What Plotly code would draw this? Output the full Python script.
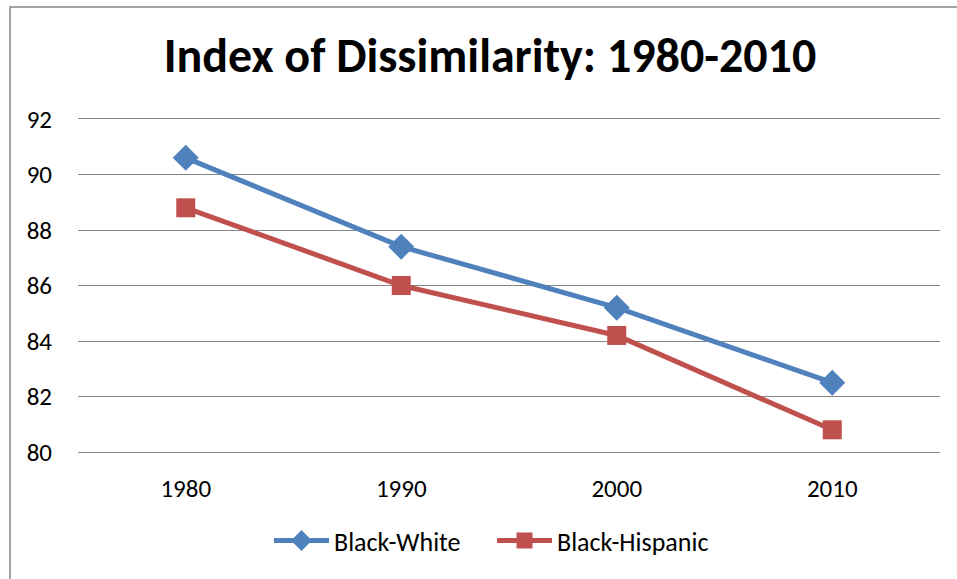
import plotly.graph_objects as go

years = ["1980", "1990", "2000", "2010"]
black_white = [90.6, 87.4, 85.2, 82.5]
black_hispanic = [88.8, 86.0, 84.2, 80.8]
y_ticks = [80, 82, 84, 86, 88, 90, 92]

FONT = "Calibri, Carlito, Lato, sans-serif"
GRID = "#868686"

fig = go.Figure()
fig.add_trace(go.Scatter(
    x=years, y=black_white, name="Black-White", mode="lines+markers",
    line=dict(color="#4F81BD", width=5),
    marker=dict(symbol="diamond", size=20, color="#4F81BD"),
))
fig.add_trace(go.Scatter(
    x=years, y=black_hispanic, name="Black-Hispanic", mode="lines+markers",
    line=dict(color="#C0504D", width=5),
    marker=dict(symbol="square", size=19, color="#C0504D"),
))

fig.update_layout(
    width=957, height=579,
    margin=dict(l=78, r=17, t=119, b=127),
    paper_bgcolor="white", plot_bgcolor="white",
    font=dict(family=FONT, size=25, color="black"),
    title=dict(text="<b>Index of Dissimilarity: 1980-2010</b>",
               x=0.512, xanchor="center", y=0.905, yanchor="middle",
               font=dict(family=FONT, size=48, color="black")),
    xaxis=dict(type="category", range=[-0.5, 3.5], showgrid=False,
               showline=True, linecolor=GRID, linewidth=1, mirror=True,
               ticks="", zeroline=False, ticklabelstandoff=14,
               tickfont=dict(size=25)),
    yaxis=dict(range=[80, 92], tickvals=y_ticks, showgrid=True,
               gridcolor=GRID, gridwidth=1, zeroline=False,
               showline=False, ticks="", ticklabelstandoff=25,
               tickfont=dict(size=25)),
    legend=dict(orientation="h", x=(269 - 78) / 862, xanchor="left",
                y=-0.266, yanchor="middle", font=dict(family=FONT, size=26),
                itemwidth=55, entrywidth=153, entrywidthmode="pixels"),
    showlegend=True,
    shapes=[dict(type="rect", xref="paper", yref="paper",
                 x0=-68/862, x1=1.1, y0=-0.5, y1=1 + 112/333,
                 line=dict(color=GRID, width=1.5))],
)

fig.write_html("out.html")
